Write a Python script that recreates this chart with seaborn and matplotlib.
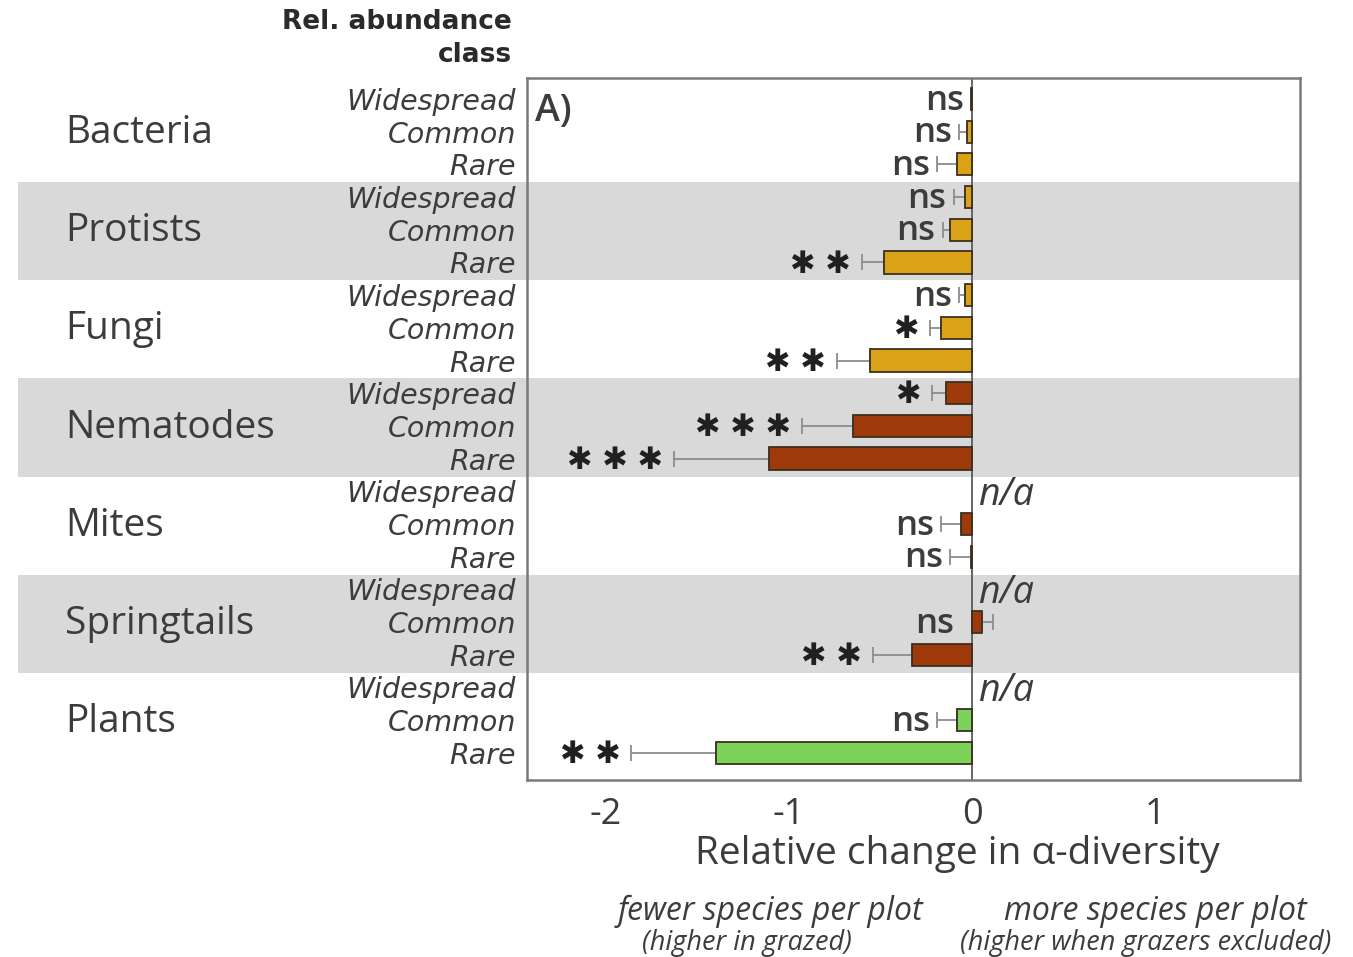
import numpy as np
import pandas as pd
import matplotlib
matplotlib.use('Agg')
import matplotlib.pyplot as plt
import matplotlib.transforms as mtransforms
from matplotlib.patches import Rectangle
import seaborn as sns

# values
taxa = ['Bacteria', 'Protists', 'Fungi', 'Nematodes', 'Mites', 'Springtails', 'Plants']
classes = ['Widespread', 'Common', 'Rare']
effect = [-0.005, -0.03, -0.08,
          -0.04, -0.12, -0.48,
          -0.04, -0.17, -0.56,
          -0.14, -0.65, -1.11,
          np.nan, -0.06, -0.005,
          np.nan, 0.055, -0.33,
          np.nan, -0.08, -1.40]
error = [0.0, 0.04, 0.11,
         0.06, 0.04, 0.12,
         0.03, 0.06, 0.18,
         0.08, 0.28, 0.52,
         np.nan, 0.11, 0.115,
         np.nan, 0.06, 0.21,
         np.nan, 0.11, 0.46]
signif = ['ns', 'ns', 'ns',
          'ns', 'ns', '**',
          'ns', '*', '**',
          '*', '***', '***',
          'n/a', 'ns', 'ns',
          'n/a', 'ns', '**',
          'n/a', 'ns', '**']
shaded_taxa = ['Protists', 'Nematodes', 'Springtails']
taxon_colors = {'Bacteria': '#DBA218', 'Protists': '#DBA218', 'Fungi': '#DBA218',
                'Nematodes': '#A0390A', 'Mites': '#A0390A', 'Springtails': '#A0390A',
                'Plants': '#7DD35A'}

df = pd.DataFrame({
    'taxon': np.repeat(taxa, len(classes)),
    'cls': classes * len(taxa),
    'effect': effect,
    'error': error,
    'signif': signif,
})
df['row'] = df['taxon'] + '|' + df['cls']

sns.set_style('white')
plt.rcParams['font.family'] = ['Open Sans', 'DejaVu Sans']
plt.rcParams['axes.unicode_minus'] = False
text_col = '#3c3c3c'

fig = plt.figure(figsize=(13.53, 9.57), dpi=100)
ax = fig.add_axes([527 / 1353, 1 - 780 / 957, 773 / 1353, 702 / 957])

sns.barplot(data=df, x='effect', y='row', hue='taxon', order=list(df['row']),
            hue_order=taxa, palette=taxon_colors, dodge=False, width=0.68,
            saturation=1, edgecolor='#3a3020', linewidth=1.3, errorbar=None,
            legend=False, orient='h', ax=ax)

ypos = np.arange(len(df))

# one-sided error bars pointing away from zero
for i, r in df.iterrows():
    if np.isnan(r['effect']):
        continue
    lo, hi = (r['error'], 0) if r['effect'] <= 0 else (0, r['error'])
    ax.errorbar(r['effect'], ypos[i], xerr=[[lo], [hi]], fmt='none',
                ecolor='#8c8c8c', elinewidth=1.3, capsize=6, capthick=1.3, zorder=0.9)

ax.axvline(0, color='#5a5a5a', lw=1.3, zorder=0.95)

# significance labels
for i, r in df.iterrows():
    if r['signif'] == 'n/a':
        ax.text(0.03, ypos[i] + 0.1, 'n/a', ha='left', va='center', style='italic',
                fontsize=27, color=text_col)
        continue
    left = min(r['effect'] - r['error'], 0) if r['effect'] <= 0 else -0.06
    if r['signif'] == 'ns':
        ax.text(left - 0.04, ypos[i] + 0.05, 'ns', ha='right', va='center',
                fontsize=25, fontweight='semibold', color=text_col)
    else:
        stars = ' '.join(['✱'] * len(r['signif']))
        ax.text(left - 0.06, ypos[i] + 0.05, stars, ha='right', va='center',
                fontsize=22, color='#202020', family=['DejaVu Sans'])

# grey bands behind alternate taxa, running out into the left margin
band_tr = mtransforms.blended_transform_factory(fig.transFigure, ax.transData)
for g, t in enumerate(taxa):
    if t in shaded_taxa:
        ax.add_patch(Rectangle((18 / 1353, 3 * g - 0.45), (1300 - 18) / 1353, 3.0,
                               transform=band_tr, facecolor='#d9d9d9', edgecolor='none',
                               clip_on=False, zorder=0))
    ax.text(65 / 1353, 3 * g + 1.05, t, transform=band_tr, ha='left', va='center',
            fontsize=28, fontweight='medium', color=text_col, clip_on=False)

ax.set_xlim(-2.43, 1.79)
ax.set_ylim(20.83, -0.64)
ax.set_xticks([-2, -1, 0, 1])
ax.set_xticklabels(['-2', '-1', '0', '1'])
ax.set_yticks(ypos)
ax.set_yticklabels(df['cls'], fontstyle='italic', family=['DejaVu Sans'], fontsize=20.5,
                   color=text_col)
ax.tick_params(axis='y', length=0, pad=8)
ax.tick_params(axis='x', direction='out', length=9, width=1.3, color='#808080',
               labelsize=26, labelcolor=text_col, pad=3)
ax.set_xlabel('')
ax.set_ylabel('')
for sp in ax.spines.values():
    sp.set_visible(True)
    sp.set_color('#7a7a7a')
    sp.set_linewidth(1.8)

ax.text(0.01, 0.98, 'A)', transform=ax.transAxes, ha='left', va='top',
        fontsize=27, fontweight='semibold', color=text_col)

fig.text(512 / 1353, 1 - 22 / 957, 'Rel. abundance', ha='right', va='center',
         fontsize=19, fontweight='bold', family=['DejaVu Sans'], color='#2a2a2a')
fig.text(512 / 1353, 1 - 55 / 957, 'class', ha='right', va='center',
         fontsize=19, fontweight='bold', family=['DejaVu Sans'], color='#2a2a2a')

fig.text(957 / 1353, 1 - 854 / 957, 'Relative change in α-diversity', ha='center',
         va='center', fontsize=28, color=text_col)
fig.text(770 / 1353, 1 - 911 / 957, 'fewer species per plot', ha='center', va='center',
         fontsize=23, style='italic', color=text_col)
fig.text(747 / 1353, 1 - 943 / 957, '(higher in grazed)', ha='center', va='center',
         fontsize=19.5, style='italic', color=text_col)
fig.text(1155 / 1353, 1 - 911 / 957, 'more species per plot', ha='center', va='center',
         fontsize=23, style='italic', color=text_col)
fig.text(1146 / 1353, 1 - 943 / 957, '(higher when grazers excluded)', ha='center',
         va='center', fontsize=19.5, style='italic', color=text_col)

fig.savefig('out.png', dpi=100)
